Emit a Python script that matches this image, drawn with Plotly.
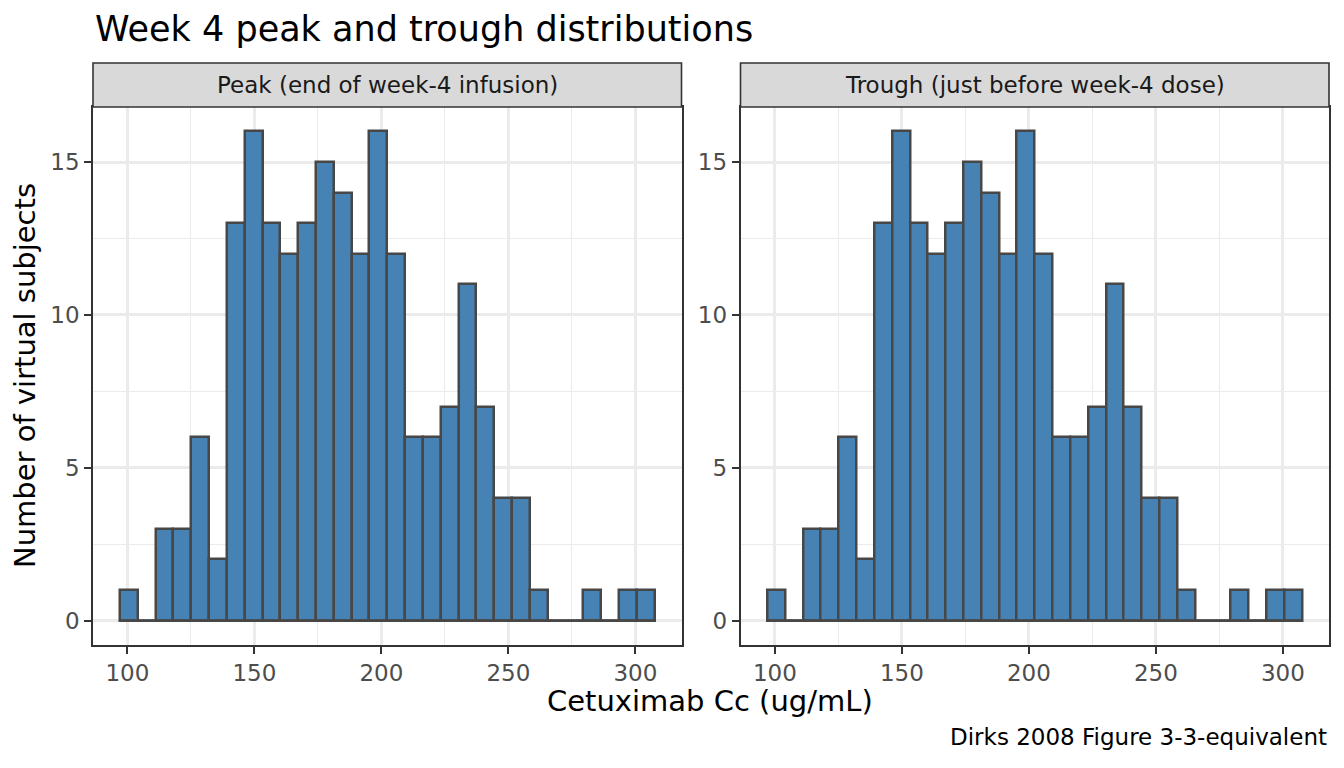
import plotly.graph_objects as go
from plotly.subplots import make_subplots

# histogram bins (ug/mL)
bin_mids = [100.5, 107.5, 114.6, 121.6, 128.6, 135.6, 142.6, 149.7, 156.7, 163.7,
            170.7, 177.7, 184.8, 191.8, 198.8, 205.8, 212.8, 219.9, 226.9, 233.9,
            240.9, 247.9, 255.0, 262.0, 269.0, 276.0, 283.0, 290.1, 297.1, 304.1]
bin_width = 7.02

peak_counts = [1, 0, 3, 3, 6, 2, 13, 16, 13, 12, 13, 15, 14, 12, 16, 12, 6, 6, 7, 11,
               7, 4, 4, 1, 0, 0, 1, 0, 1, 1]
trough_counts = [1, 0, 3, 3, 6, 2, 13, 16, 13, 12, 13, 15, 14, 12, 16, 12, 6, 6, 7, 11,
                 7, 4, 4, 1, 0, 0, 1, 0, 1, 1]

panel_titles = ["Peak (end of week-4 infusion)", "Trough (just before week-4 dose)"]
x_ticks = [100, 150, 200, 250, 300]
y_ticks = [0, 5, 10, 15]

FONT = "DejaVu Sans"
FILL = "#4682B4"
EDGE = "#474747"
BORDER = "#333333"
GRID = "#EBEBEB"

# page body has an 8px margin, so the figure is shrunk and shifted by that much
PAGE = 8
W, H = 1344 - PAGE, 768 - PAGE
ML, MR, MT, MB = 93 - PAGE, 15, 63 - PAGE, 123
plot_w = W - ML - MR
plot_h = H - MT - MB
strip_h = 44
panel_top = 1 - strip_h / plot_h
gap = 59 / plot_w
PLOT_LEFT, PLOT_BOTTOM = 93, 645   # screen pixels

fig = make_subplots(rows=1, cols=2, horizontal_spacing=gap)

for col, counts in enumerate([peak_counts, trough_counts], start=1):
    fig.add_trace(go.Bar(x=bin_mids, y=counts, width=bin_width,
                         marker=dict(color=FILL, line=dict(color=EDGE, width=2.5)),
                         hoverinfo="x+y", showlegend=False), row=1, col=col)
    # zero-height bins still show as a flat outline at 0 in ggplot
    fig.add_trace(go.Scatter(x=[bin_mids[0] - bin_width / 2, bin_mids[-1] + bin_width / 2],
                             y=[0, 0], mode="lines", line=dict(color=EDGE, width=2.5),
                             hoverinfo="skip", showlegend=False), row=1, col=col)

lo = bin_mids[0] - bin_width / 2
hi = bin_mids[-1] + bin_width / 2
pad = 0.05 * (hi - lo)

fig.update_xaxes(range=[lo - pad, hi + pad], tickvals=x_ticks,
                 ticks="outside", ticklen=7, tickwidth=1.6, tickcolor=BORDER,
                 tickfont=dict(family=FONT, size=23, color="#4D4D4D"),
                 showgrid=True, gridcolor=GRID, gridwidth=2.5,
                 minor=dict(dtick=25, tick0=0, showgrid=True, gridcolor=GRID, gridwidth=1.3),
                 showline=True, mirror=True, linecolor=BORDER, linewidth=1.6,
                 zeroline=False)
fig.update_yaxes(range=[-0.8, 16.8], tickvals=y_ticks, domain=[0, panel_top],
                 ticks="outside", ticklen=7, tickwidth=1.6, tickcolor=BORDER,
                 tickfont=dict(family=FONT, size=23, color="#4D4D4D"),
                 showgrid=True, gridcolor=GRID, gridwidth=2.5,
                 minor=dict(dtick=2.5, tick0=0, showgrid=True, gridcolor=GRID, gridwidth=1.3),
                 showline=True, mirror=True, linecolor=BORDER, linewidth=1.6,
                 zeroline=False)


def py(pix):
    return (PLOT_BOTTOM - pix) / plot_h


def px(pix):
    return (pix - PLOT_LEFT) / plot_w


# facet strips
doms = [fig.layout.xaxis.domain, fig.layout.xaxis2.domain]
for dom, label in zip(doms, panel_titles):
    fig.add_shape(type="rect", xref="paper", yref="paper",
                  x0=dom[0], x1=dom[1], y0=panel_top, y1=1,
                  fillcolor="#D9D9D9", line=dict(color=BORDER, width=1.6))
    fig.add_annotation(text=label, xref="paper", yref="paper",
                       x=(dom[0] + dom[1]) / 2, y=py(84.6),
                       showarrow=False, xanchor="center", yanchor="middle",
                       font=dict(family=FONT, size=23, color="#1A1A1A"))

fig.add_annotation(text="Week 4 peak and trough distributions", xref="paper", yref="paper",
                   x=0, y=py(29.5), xanchor="left", yanchor="middle", showarrow=False,
                   font=dict(family=FONT, size=35, color="black"))
fig.add_annotation(text="Cetuximab Cc (ug/mL)", xref="paper", yref="paper",
                   x=px(710), y=py(700.5), xanchor="center", yanchor="middle", showarrow=False,
                   font=dict(family=FONT, size=29, color="black"))
fig.add_annotation(text="Number of virtual subjects", xref="paper", yref="paper",
                   x=px(25), y=py(376), xanchor="center", yanchor="middle",
                   textangle=-90, showarrow=False,
                   font=dict(family=FONT, size=29, color="black"))
fig.add_annotation(text="Dirks 2008 Figure 3-3-equivalent", xref="paper", yref="paper",
                   x=px(1329), y=py(737), xanchor="right", yanchor="middle",
                   showarrow=False, font=dict(family=FONT, size=23, color="black"))

fig.update_layout(width=W, height=H, margin=dict(l=ML, r=MR, t=MT, b=MB),
                  plot_bgcolor="white", paper_bgcolor="white", bargap=0,
                  font=dict(family=FONT))

fig.write_html("out.html")
